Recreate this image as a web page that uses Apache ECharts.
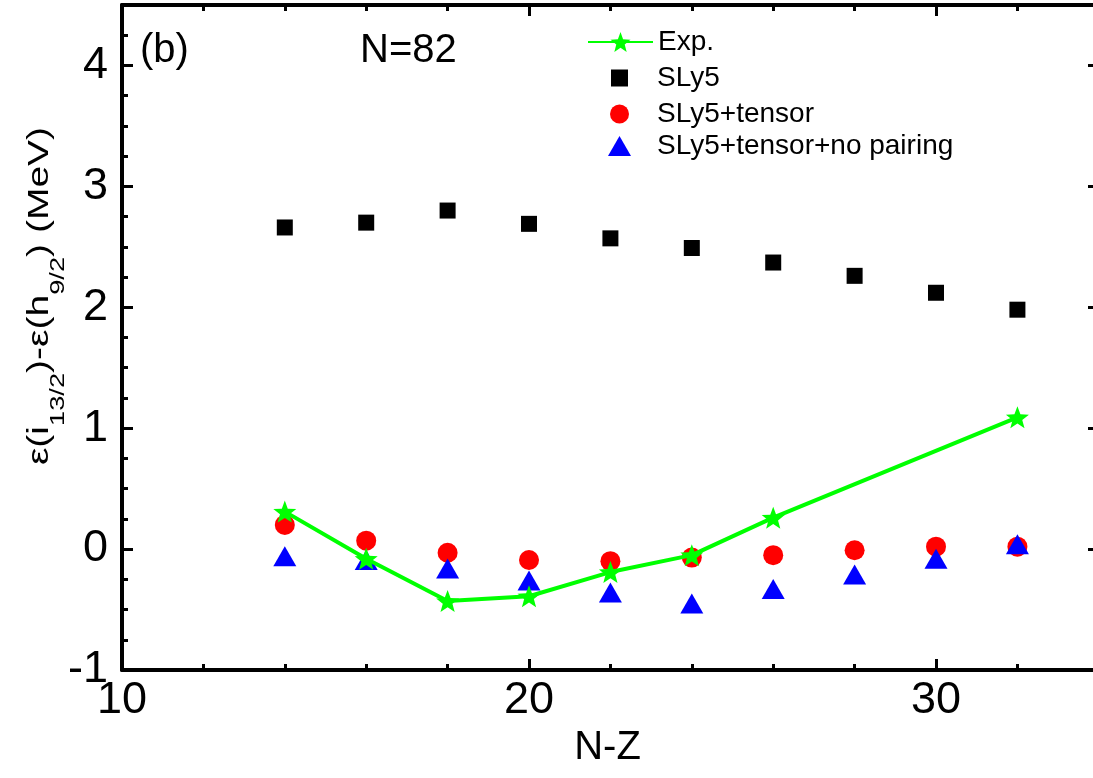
<!DOCTYPE html>
<html>
<head>
<meta charset="utf-8">
<script src="https://cdn.jsdelivr.net/npm/echarts@6/dist/echarts.min.js"></script>
<style>
html,body{margin:0;padding:0;background:#fff;}
#chart{width:1093px;height:778px;}
</style>
</head>
<body>
<div id="chart"></div>
<script>
// ---- data ----
var nzCalc = [14, 16, 18, 20, 22, 24, 26, 28, 30, 32];
var sly5 = [2.66, 2.70, 2.80, 2.69, 2.57, 2.49, 2.37, 2.26, 2.12, 1.98];
var sly5Tensor = [0.20, 0.07, -0.03, -0.09, -0.10, -0.07, -0.05, -0.01, 0.02, 0.02];
var sly5TensorNoPair = [-0.06, -0.09, -0.16, -0.26, -0.36, -0.45, -0.33, -0.21, -0.08, 0.04];
var nzExp = [14, 16, 18, 20, 22, 24, 26, 32];
var expVals = [0.31, -0.08, -0.43, -0.39, -0.19, -0.05, 0.26, 1.09];
var xMajorTicks = [10, 20, 30];
var xMinorTicks = [12, 14, 16, 18, 22, 24, 26, 28, 32];
var yMajorTicks = [-1, 0, 1, 2, 3, 4];
var yMinorTicks = [-0.75, -0.5, -0.25, 0.25, 0.5, 0.75, 1.25, 1.5, 1.75, 2.25, 2.5, 2.75, 3.25, 3.5, 3.75, 4.25];

function pairs(xs, ys) { return xs.map(function (x, i) { return [x, ys[i]]; }); }

var FONT = 'Liberation Sans, Arial, Helvetica, sans-serif';
var STAR = 'path://M50,0 L62.3,33.0 L97.55,34.55 L70.0,56.5 L79.39,90.45 L50,71.0 L20.61,90.45 L30.0,56.5 L2.45,34.55 L37.7,33.0 Z';
var ICON_SQUARE = 'path://M0,0H10V10H0Z';
var ICON_CIRCLE = 'path://M10,5A5,5,0,1,1,0,5A5,5,0,1,1,10,5Z';
var ICON_TRIANGLE = 'path://M11.5,0L23,20H0Z';

var X_MIN = 10, X_MAX = 33.857; // right frame edge lies just outside the picture
var Y_MIN = -1, Y_MAX = 4.5;

var chart = echarts.init(document.getElementById('chart'), null, { renderer: 'canvas' });

function xAx(pos, ticks, len, showLine, showLabel, interval) {
  return {
    type: 'value', position: pos, min: X_MIN, max: X_MAX, interval: interval,
    axisLine: { show: showLine, onZero: false, lineStyle: { color: '#000', width: 4 } },
    axisTick: { show: true, inside: true, length: len, customValues: ticks, lineStyle: { color: '#000', width: 3 } },
    axisLabel: {
      show: showLabel, color: '#000', fontSize: 45, fontFamily: FONT, margin: 8,
      customValues: ticks,
      formatter: function (v) { return xMajorTicks.indexOf(v) >= 0 ? String(v) : ''; }
    },
    splitLine: { show: false }
  };
}
function yAx(pos, ticks, len, showLine, showLabel, interval) {
  return {
    type: 'value', position: pos, min: Y_MIN, max: Y_MAX, interval: interval,
    axisLine: { show: showLine, onZero: false, lineStyle: { color: '#000', width: 4 } },
    axisTick: { show: true, inside: true, length: len, customValues: ticks, lineStyle: { color: '#000', width: 3 } },
    axisLabel: {
      show: showLabel, color: '#000', fontSize: 45, fontFamily: FONT, margin: 14,
      customValues: ticks,
      formatter: function (v) { return yMajorTicks.indexOf(v) >= 0 ? String(v) : ''; }
    },
    splitLine: { show: false }
  };
}

var xAxes = [
  xAx('bottom', xMajorTicks, 11, true, true, 10),
  xAx('bottom', xMinorTicks, 6, false, false, 2),
  xAx('top', xMajorTicks, 11, true, false, 10),
  xAx('top', xMinorTicks, 6, false, false, 2)
];
xAxes[0].name = 'N-Z';
xAxes[0].nameLocation = 'middle';
xAxes[0].nameGap = 58;
xAxes[0].nameTextStyle = { color: '#000', fontSize: 40, fontFamily: FONT };

var yAxes = [
  yAx('left', yMajorTicks, 11, true, true, 1),
  yAx('left', yMinorTicks, 6, false, false, 0.25),
  yAx('right', yMajorTicks, 5, false, false, 1)
];

function legendAt(item, left, top, itemH) {
  return {
    data: [item], left: left, top: top, orient: 'vertical', padding: 0,
    itemWidth: 65, itemHeight: itemH, itemGap: 0, symbolKeepAspect: true,
    textStyle: { color: '#000', fontSize: 28, fontFamily: FONT },
    selectedMode: false
  };
}

var option = {
  backgroundColor: '#fff',
  animation: false,
  grid: { left: 122, top: 5, right: 0, height: 665, containLabel: false },
  xAxis: xAxes,
  yAxis: yAxes,
  legend: [
    legendAt({ name: 'Exp.' }, 587, 28, 25),
    legendAt({ name: 'SLy5', icon: ICON_SQUARE }, 611, 64, 17),
    legendAt({ name: 'SLy5+tensor', icon: ICON_CIRCLE }, 610, 100, 19),
    legendAt({ name: 'SLy5+tensor+no pairing', icon: ICON_TRIANGLE }, 608, 132, 20)
  ],
  graphic: [
    { type: 'text', left: 140, top: 31, style: { text: '(b)', fill: '#000', font: '40px ' + FONT } },
    { type: 'text', left: 360, top: 31, style: { text: 'N=82', fill: '#000', font: '40px ' + FONT } },
    {
      type: 'text', x: 40, y: 296, rotation: Math.PI / 2, scaleX: 1.3,
      style: {
        text: '{m|ε(i}{s|13/2}{m|)-ε(h}{s|9/2}{m|) (MeV)}',
        fill: '#000', align: 'center', verticalAlign: 'middle',
        rich: {
          m: { fontSize: 30, lineHeight: 30, fontFamily: FONT, verticalAlign: 'top', fill: '#000' },
          s: { fontSize: 21, lineHeight: 21, fontFamily: FONT, verticalAlign: 'top', padding: [23, 0, 0, 0], fill: '#000' }
        }
      }
    }
  ],
  series: [
    {
      name: 'SLy5', type: 'scatter', xAxisIndex: 0, yAxisIndex: 0,
      symbol: 'rect', symbolSize: 16, itemStyle: { color: '#000', opacity: 1 },
      data: pairs(nzCalc, sly5)
    },
    {
      name: 'SLy5+tensor', type: 'scatter', xAxisIndex: 0, yAxisIndex: 0,
      symbol: 'circle', symbolSize: 20, itemStyle: { color: '#ff0000', opacity: 1 },
      data: pairs(nzCalc, sly5Tensor)
    },
    {
      name: 'Exp.', type: 'line', xAxisIndex: 0, yAxisIndex: 0,
      symbol: STAR, symbolSize: [23, 22], showSymbol: true,
      lineStyle: { color: '#00ff00', width: 4 },
      itemStyle: { color: '#00ff00', borderWidth: 0, opacity: 1 },
      data: pairs(nzExp, expVals)
    },
    {
      name: 'SLy5+tensor+no pairing', type: 'scatter', xAxisIndex: 0, yAxisIndex: 0,
      symbol: 'triangle', symbolSize: [23, 20], itemStyle: { color: '#0000ff', opacity: 1 },
      data: pairs(nzCalc, sly5TensorNoPair)
    }
  ]
};
chart.setOption(option);
</script>
</body>
</html>
